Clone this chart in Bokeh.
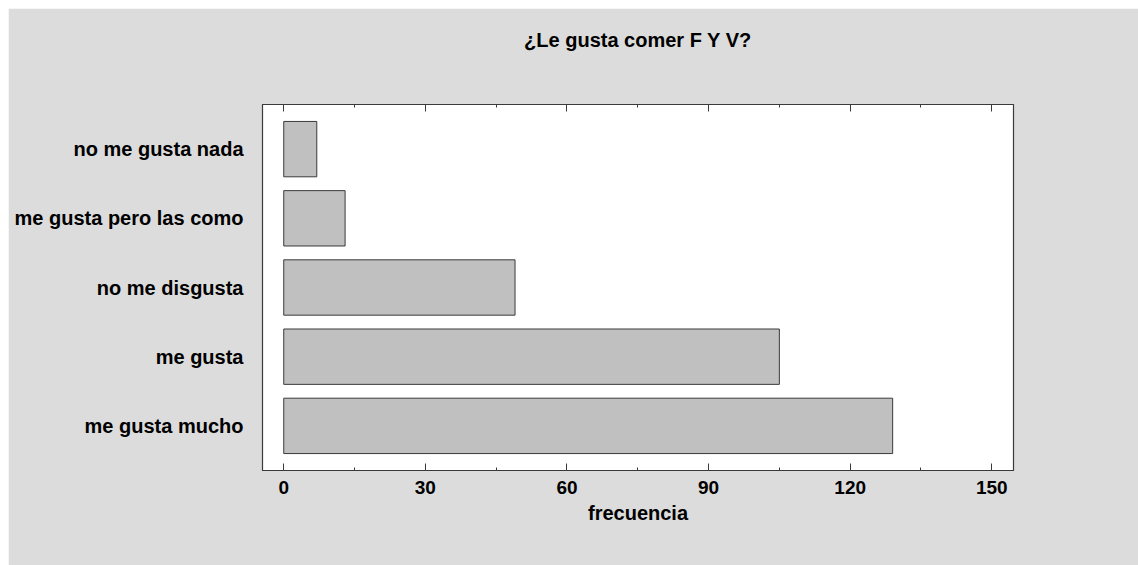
from bokeh.plotting import figure
from bokeh.models import (ColumnDataSource, FactorRange, Range1d, LinearAxis,
                          SingleIntervalTicker, CustomJSTickFormatter)
from bokeh.embed import file_html
from bokeh.resources import INLINE

# ---- data ----
categories = ["no me gusta nada", "me gusta pero las como", "no me disgusta",
              "me gusta", "me gusta mucho"]
frecuencia = [7, 13, 49, 105, 129]
title_text = "¿Le gusta comer F Y V?"
x_label = "frecuencia"

FONT = "Liberation Sans"
BG = "#dcdcdc"
DARK = "#3a3a3a"

factors = list(reversed(categories))
src = ColumnDataSource(dict(cat=categories, val=frecuencia))

p = figure(width=1130, height=557, output_backend="svg", toolbar_location=None,
           y_range=FactorRange(factors=factors, range_padding=0.145,
                               range_padding_units="absolute"),
           x_range=Range1d(-4.5, 154.6),
           min_border_left=254, min_border_right=125,
           min_border_top=96, min_border_bottom=95,
           x_axis_location="below")
p.margin = (8, 0, 0, 8)

p.background_fill_color = "white"
p.border_fill_color = BG
p.outline_line_color = DARK
p.outline_line_width = 1.2
p.grid.visible = False

p.hbar(y="cat", right="val", left=0, height=0.8, source=src,
       fill_color="#c0c0c0", line_color=DARK, line_width=1)

ticker = SingleIntervalTicker(interval=30, num_minor_ticks=2)

xa = p.xaxis[0]
xa.ticker = ticker
xa.axis_line_color = DARK
xa.major_tick_in = 7
xa.major_tick_out = 0
xa.minor_tick_in = 3
xa.minor_tick_out = 0
xa.major_tick_line_color = DARK
xa.minor_tick_line_color = DARK
xa.major_label_text_font = FONT
xa.major_label_text_font_style = "bold"
xa.major_label_text_font_size = "19px"
xa.major_label_text_color = "black"
xa.major_label_standoff = 10
xa.axis_label = x_label
xa.axis_label_text_font = FONT
xa.axis_label_text_font_style = "bold"
xa.axis_label_text_font_size = "20px"
xa.axis_label_text_color = "black"
xa.axis_label_standoff = 5

# mirrored top axis: ticks only; its (blank) label just reserves space under the title
top = LinearAxis(ticker=ticker, formatter=CustomJSTickFormatter(code="return ''"),
                 major_tick_in=7, major_tick_out=0, minor_tick_in=3, minor_tick_out=0,
                 axis_line_color=DARK, major_tick_line_color=DARK,
                 minor_tick_line_color=DARK, major_label_standoff=0,
                 axis_label=" ", axis_label_text_font_size="2px",
                 axis_label_standoff=31)
p.add_layout(top, "above")

ya = p.yaxis[0]
ya.axis_line_color = DARK
ya.major_tick_line_color = None
ya.minor_tick_line_color = None
ya.major_tick_in = 0
ya.major_tick_out = 0
ya.major_label_standoff = 19
ya.major_label_text_font = FONT
ya.major_label_text_font_style = "bold"
ya.major_label_text_font_size = "20px"
ya.major_label_text_color = "black"

p.title.text = title_text
p.title.align = "center"
p.title.offset = -10
p.title.text_font = FONT
p.title.text_font_style = "bold"
p.title.text_font_size = "20px"
p.title.text_color = "black"
p.title.standoff = 36

open("out.html", "w").write(file_html(p, INLINE))
